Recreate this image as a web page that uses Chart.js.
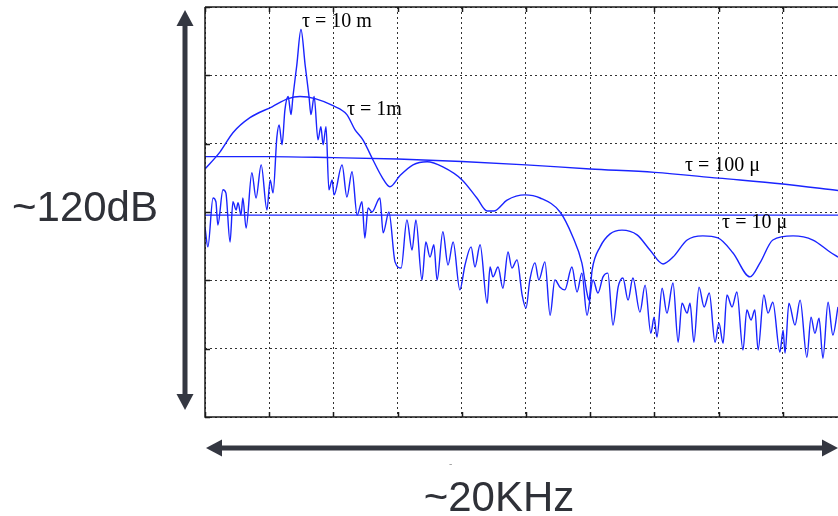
<!DOCTYPE html>
<html>
<head>
<meta charset="utf-8">
<script src="https://cdn.jsdelivr.net/npm/chart.js@4.4.1/dist/chart.umd.min.js"></script>
<style>
  html, body { margin: 0; padding: 0; background: #fff; }
  #wrap { position: relative; width: 838px; height: 516px; overflow: hidden; }
  #chart { position: absolute; left: 0; top: 0; }
  svg { position: absolute; left: 0; top: 0; }
  .big { position: absolute; font-family: "Liberation Sans", Arial, sans-serif; font-size: 42px;
         line-height: 1; color: #2f3138; white-space: nowrap; }
</style>
</head>
<body>
<div id="wrap">
  <canvas id="chart" width="838" height="516"></canvas>
  <svg width="838" height="516">
    <line x1="185" y1="22" x2="185" y2="398" stroke="#343741" stroke-width="5"/>
    <polygon points="185,10 176.5,26 193.5,26" fill="#343741"/>
    <polygon points="185,410 176.5,394 193.5,394" fill="#343741"/>
    <line x1="220" y1="448" x2="824" y2="448" stroke="#343741" stroke-width="5"/>
    <polygon points="206,448 222,439.5 222,456.5" fill="#343741"/>
    <polygon points="838,448 822,439.5 822,456.5" fill="#343741"/>
  </svg>
  <div class="big" style="left:12px; top:186px;">~120dB</div>
  <div class="big" style="left:499px; top:476px; transform:translateX(-50%);">~20KHz</div>
  <div style="position:absolute; left:449px; top:458px; font:10px 'Liberation Sans'; color:#999;">-</div>
</div>
<script>
// frequency in kHz (one grid step = 2 kHz), level in dB (one grid step = 20 dB)
const tau10mKHz = [
  0, 0.09, 0.25, 0.34, 0.40, 0.56, 0.65, 0.78, 0.87, 0.97, 1.03, 1.12, 1.18, 1.28, 1.46, 1.59,
  1.75, 1.93, 2.03, 2.12, 2.24, 2.31, 2.40, 2.49, 2.59, 2.68, 2.74, 2.86, 2.99, 3.12, 3.24, 3.30,
  3.40, 3.52, 3.61, 3.68, 3.77, 3.86, 3.96, 4.02, 4.27, 4.42, 4.58, 4.74, 4.89, 4.98, 5.08, 5.20,
  5.45, 5.55, 5.73, 5.92, 6.11, 6.29, 6.45, 6.57, 6.76, 6.88, 7.01, 7.13, 7.23, 7.41, 7.57, 7.73,
  7.94, 8.10, 8.29, 8.41, 8.57, 8.79, 8.88, 8.97, 9.13, 9.28, 9.44, 9.56, 9.72, 9.88, 10.00, 10.12,
  10.28, 10.40, 10.59, 10.75, 10.90, 11.06, 11.21, 11.43, 11.59, 11.74, 11.90, 12.09, 12.24, 12.40,
  12.55, 12.71, 12.87, 13.02, 13.18, 13.33, 13.55, 13.71, 13.89, 13.99, 14.08, 14.24, 14.39, 14.58,
  14.74, 14.86, 15.02, 15.11, 15.23, 15.39, 15.55, 15.71, 15.89, 16.01, 16.14, 16.26, 16.42, 16.57,
  16.76, 16.88, 17.01, 17.13, 17.23, 17.41, 17.54, 17.69, 17.91, 18.01, 18.07, 18.19, 18.38, 18.54,
  18.75, 18.88, 19.00, 19.13, 19.25, 19.41, 19.56, 19.72
];
const tau10mDB = [
  -64.4, -70.2, -55.9, -57.0, -63.8, -53.5, -54.4, -68.8, -57.0, -59.4, -57.3, -60.9, -55.9, -64.7, -48.5, -55.9,
  -46.2, -59.4, -50.6, -54.4, -38.0, -34.5, -40.3, -30.1, -26.2, -31.5, -26.2, -17.0, -6.6, -17.0, -26.2, -31.5,
  -26.2, -38.9, -35.0, -40.3, -35.0, -53.5, -50.6, -55.0, -46.2, -55.6, -48.2, -60.9, -57.0, -67.6, -58.8, -60.0,
  -55.9, -66.1, -60.0, -74.6, -76.4, -62.3, -71.1, -62.3, -79.9, -68.8, -73.2, -69.6, -79.9, -65.8, -75.5, -68.8,
  -82.8, -75.5, -70.2, -76.1, -69.6, -86.7, -76.1, -79.0, -76.1, -82.3, -71.7, -76.4, -74.0, -84.3, -88.1, -79.9,
  -74.9, -79.9, -74.6, -90.2, -79.9, -82.0, -82.8, -76.1, -83.4, -77.9, -90.2, -79.9, -83.7, -79.0,
  -77.9, -93.1, -82.0, -79.3, -85.8, -79.3, -89.3, -81.4, -95.5, -90.8, -96.6, -82.3, -89.6, -80.8,
  -98.1, -86.7, -89.6, -86.7, -98.1, -82.0, -87.8, -83.7, -98.1, -92.5, -98.4, -84.3, -87.8, -83.4,
  -100.4, -88.7, -91.6, -88.7, -100.4, -84.3, -89.6, -86.4, -101.0, -94.6, -101.3, -86.7, -93.1, -85.8,
  -102.5, -90.8, -95.5, -91.1, -102.8, -86.4, -96.0, -87.8
];

const tau1mKHz = [
  0, 0.47, 0.87, 1.40, 2.09, 2.59, 2.96, 3.43, 3.99, 4.42, 4.67, 4.92, 5.23, 5.51, 5.76, 6.07,
  6.48, 6.92, 7.41, 8.01, 8.47, 8.79, 9.00, 9.41, 9.97, 10.44, 11.06, 11.46, 11.74, 11.90, 11.96,
  12.06, 12.31, 12.62, 12.99, 13.46, 13.86, 14.27, 14.58, 15.02, 15.51, 15.98, 16.45, 16.98, 17.29,
  17.69, 18.32, 18.94, 19.47, 19.72
];
const tau1mDB = [
  -47.4, -42.4, -36.8, -32.4, -29.2, -26.8, -26.2, -26.8, -28.9, -31.5, -35.9, -38.9, -44.7, -49.7, -52.6, -49.4,
  -46.2, -45.3, -46.8, -50.6, -55.9, -59.7, -59.7, -56.5, -55.0, -55.9, -60.0, -67.3, -74.9, -83.7, -85.8,
  -77.0, -70.2, -66.4, -65.3, -66.7, -71.1, -75.2, -73.2, -68.2, -67.0, -67.6, -72.0, -79.0, -74.9,
  -68.2, -67.0, -68.2, -71.7, -73.2
];

const tau100uKHz = [0, 2, 4, 6, 8, 10, 12, 14, 16, 18, 19.72];
const tau100uDB = [-43.8, -43.8, -44.1, -44.5, -45.2, -46.2, -47.4, -48.4, -50.1, -51.8, -53.7];

const tau10uKHz = [0, 5, 10, 15, 19.72];
const tau10uDB = [-60.9, -60.9, -60.9, -60.9, -60.9];

const gridKHz = [0, 2, 4, 6, 8, 10, 12, 14, 16, 18];
const gridDB = [-120, -100, -80, -60, -40, -20, 0];

// curve labels: text, left edge (kHz), vertical centre (dB)
const curveLabels = [
  { text: 'τ = 10 m', kHz: 3.02, dB: -4.3 },
  { text: 'τ = 1m', kHz: 4.42, dB: -30.1 },
  { text: 'τ = 100 μ', kHz: 14.95, dB: -46.5 },
  { text: 'τ = 10 μ', kHz: 16.11, dB: -63.2 }
];

const BLUE = '#1a24ff';
const toPoints = (xs, ys) => xs.map((x, i) => ({ x: x, y: ys[i] }));
const line = (pts) => ({
  data: pts, borderColor: BLUE, borderWidth: 1.4, pointRadius: 0,
  cubicInterpolationMode: 'monotone', fill: false
});

const frame = {
  id: 'frame',
  afterDatasetsDraw(chart) {
    const { ctx, chartArea: a, scales: { x, y } } = chart;
    ctx.save();
    ctx.strokeStyle = '#1a1a1a';
    ctx.lineWidth = 1.5;
    ctx.beginPath();
    ctx.moveTo(a.left, a.top); ctx.lineTo(a.right, a.top);
    ctx.moveTo(a.left, a.top); ctx.lineTo(a.left, a.bottom); ctx.lineTo(a.right, a.bottom);
    gridKHz.forEach(v => {
      const px = Math.round(x.getPixelForValue(v)) + 0.5;
      ctx.moveTo(px, a.bottom); ctx.lineTo(px, a.bottom - 5);
      ctx.moveTo(px, a.top); ctx.lineTo(px, a.top + 5);
    });
    gridDB.forEach(v => {
      const py = Math.round(y.getPixelForValue(v)) + 0.5;
      ctx.moveTo(a.left, py); ctx.lineTo(a.left + 5, py);
    });
    ctx.stroke();

    ctx.fillStyle = '#000';
    ctx.font = '20px "Liberation Serif", "DejaVu Serif", serif';
    ctx.textBaseline = 'middle';
    ctx.textAlign = 'left';
    curveLabels.forEach(l => {
      ctx.fillText(l.text, x.getPixelForValue(l.kHz), y.getPixelForValue(l.dB));
    });
    ctx.restore();
  }
};

const gridOpts = { color: '#333', lineWidth: 1, drawTicks: false };

new Chart(document.getElementById('chart'), {
  type: 'line',
  data: {
    datasets: [
      line(toPoints(tau10mKHz, tau10mDB)),
      line(toPoints(tau1mKHz, tau1mDB)),
      line(toPoints(tau100uKHz, tau100uDB)),
      line(toPoints(tau10uKHz, tau10uDB))
    ]
  },
  options: {
    responsive: false,
    animation: false,
    devicePixelRatio: 1,
    layout: { padding: { left: 205, top: 7, right: 0, bottom: 99 } },
    plugins: { legend: { display: false }, tooltip: { enabled: false } },
    scales: {
      x: {
        type: 'linear', min: 0, max: 19.72,
        afterBuildTicks: s => { s.ticks = gridKHz.map(v => ({ value: v })); },
        ticks: { display: false },
        grid: gridOpts,
        border: { display: false, dash: [2, 3] }
      },
      y: {
        type: 'linear', min: -120, max: 0,
        afterBuildTicks: s => { s.ticks = gridDB.map(v => ({ value: v })); },
        ticks: { display: false },
        grid: gridOpts,
        border: { display: false, dash: [2, 3] }
      }
    }
  },
  plugins: [frame]
});
</script>
</body>
</html>
